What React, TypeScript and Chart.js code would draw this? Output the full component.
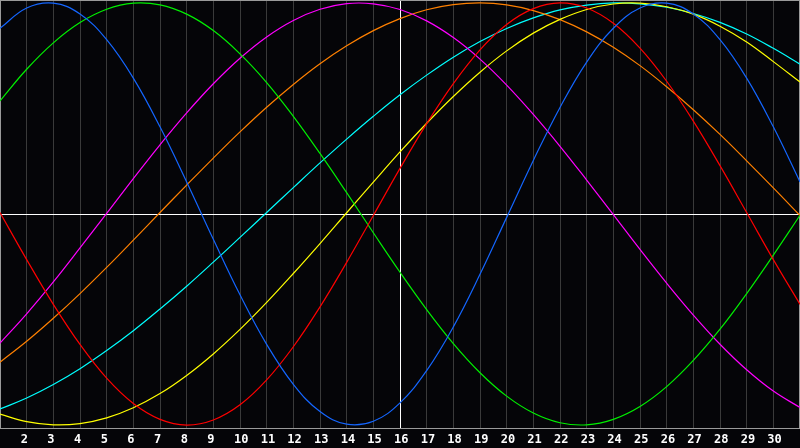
import { useEffect, useRef } from "react";
import { Chart, registerables } from "chart.js";

Chart.register(...registerables);

const days = [1, 2, 3, 4, 5, 6, 7, 8, 9, 10, 11, 12, 13, 14, 15, 16, 17, 18, 19, 20, 21, 22, 23, 24, 25, 26, 27, 28, 29, 30, 31];

const blue = [0.88, 0.976, 0.999, 0.948, 0.826, 0.644, 0.413, 0.152, -0.12, -0.383, -0.618, -0.807, -0.936, -0.996, -0.982, -0.895, -0.742, -0.535, -0.286, -0.016, 0.254, 0.505, 0.72, 0.88, 0.976, 0.999, 0.948, 0.826, 0.644, 0.413, 0.152];
const red = [0.007, -0.216, -0.428, -0.618, -0.778, -0.898, -0.973, -1.0, -0.976, -0.904, -0.786, -0.629, -0.44, -0.229, -0.007, 0.216, 0.428, 0.618, 0.778, 0.898, 0.973, 1.0, 0.976, 0.904, 0.786, 0.629, 0.44, 0.229, 0.007, -0.216, -0.428];
const green = [0.536, 0.686, 0.811, 0.907, 0.97, 0.999, 0.991, 0.947, 0.869, 0.759, 0.623, 0.463, 0.287, 0.101, -0.089, -0.276, -0.453, -0.614, -0.752, -0.863, -0.943, -0.989, -0.999, -0.973, -0.912, -0.818, -0.694, -0.546, -0.377, -0.195, -0.006];
const magenta = [-0.612, -0.473, -0.322, -0.161, 0.003, 0.168, 0.328, 0.479, 0.617, 0.738, 0.839, 0.917, 0.97, 0.997, 0.996, 0.969, 0.915, 0.836, 0.734, 0.611, 0.472, 0.321, 0.161, -0.003, -0.168, -0.328, -0.479, -0.617, -0.738, -0.839, -0.917];
const yellow = [-0.948, -0.984, -0.999, -0.993, -0.966, -0.918, -0.851, -0.765, -0.663, -0.547, -0.419, -0.282, -0.14, 0.006, 0.151, 0.294, 0.43, 0.557, 0.672, 0.773, 0.857, 0.922, 0.969, 0.995, 0.999, 0.982, 0.947, 0.89, 0.815, 0.722, 0.625];
const orange = [-0.702, -0.603, -0.494, -0.377, -0.253, -0.124, 0.007, 0.137, 0.265, 0.389, 0.506, 0.614, 0.712, 0.797, 0.869, 0.926, 0.968, 0.992, 1.0, 0.991, 0.964, 0.921, 0.863, 0.79, 0.703, 0.603, 0.494, 0.377, 0.252, 0.124, -0.007];
const cyan = [-0.924, -0.872, -0.808, -0.733, -0.647, -0.553, -0.45, -0.342, -0.228, -0.111, 0.007, 0.125, 0.242, 0.355, 0.463, 0.565, 0.658, 0.743, 0.817, 0.879, 0.929, 0.967, 0.99, 1.0, 0.996, 0.98, 0.95, 0.908, 0.853, 0.785, 0.71];

const series = [
  { data: blue, color: "#1466ff" },
  { data: red, color: "#ff0000" },
  { data: green, color: "#00f000" },
  { data: magenta, color: "#ff00ff" },
  { data: yellow, color: "#ffff00" },
  { data: orange, color: "#ff8000" },
  { data: cyan, color: "#00ffff" },
];

const frame = {
  id: "frame",
  beforeDatasetsDraw(chart: any) {
    const { ctx, chartArea: a } = chart;
    ctx.save();
    ctx.strokeStyle = "#9a9a9a";
    ctx.lineWidth = 1;
    ctx.strokeRect(a.left + 0.5, a.top + 0.5, a.right - a.left - 1, a.bottom - a.top);
    ctx.restore();
  },
};

export default function App() {
  const canvasRef = useRef<HTMLCanvasElement>(null);
  const chartRef = useRef<Chart | null>(null);

  useEffect(() => {
    if (!canvasRef.current) return;
    if (chartRef.current) chartRef.current.destroy();

    chartRef.current = new Chart(canvasRef.current, {
      type: "line",
      data: {
        labels: days.map(String),
        datasets: series.map((s) => ({
          data: s.data,
          borderColor: s.color,
          borderWidth: 1.2,
          pointRadius: 0,
          tension: 0.4,
          fill: false,
        })),
      },
      options: {
        responsive: true,
        maintainAspectRatio: false,
        animation: false,
        layout: { padding: 0 },
        plugins: { legend: { display: false }, tooltip: { enabled: false } },
        scales: {
          x: {
            offset: false,
            border: { display: false },
            grid: {
              drawTicks: false,
              color: (c: any) => (days[c.index] === 16 ? "#ffffff" : "#3a3a3a"),
            },
            ticks: {
              autoSkip: false,
              maxRotation: 0,
              align: "start",
              labelOffset: -6,
              padding: 5,
              color: "#ffffff",
              font: { family: "'DejaVu Sans Mono'", size: 12, weight: "bold" },
              callback: (_v: any, i: number) => (i === 0 || i === days.length - 1 ? "" : String(days[i])),
            },
            afterFit: (scale: any) => {
              scale.height = 20;
              scale.paddingLeft = 0;
              scale.paddingRight = 0;
            },
          },
          y: {
            min: -1.014,
            max: 1.014,
            border: { display: false },
            grid: { drawTicks: false, color: "#ffffff" },
            ticks: { display: false },
            afterBuildTicks: (axis: any) => { axis.ticks = [{ value: 0 }]; },
            afterFit: (scale: any) => {
              scale.width = 0;
              scale.paddingTop = 0;
              scale.paddingBottom = 0;
            },
          },
        },
      },
      plugins: [frame],
    });

    return () => { if (chartRef.current) chartRef.current.destroy(); };
  }, []);

  return (
    <div style={{ position: "absolute", left: 0, top: 0, width: 800, height: 448, background: "#050508" }}>
      <canvas ref={canvasRef} />
    </div>
  );
}
